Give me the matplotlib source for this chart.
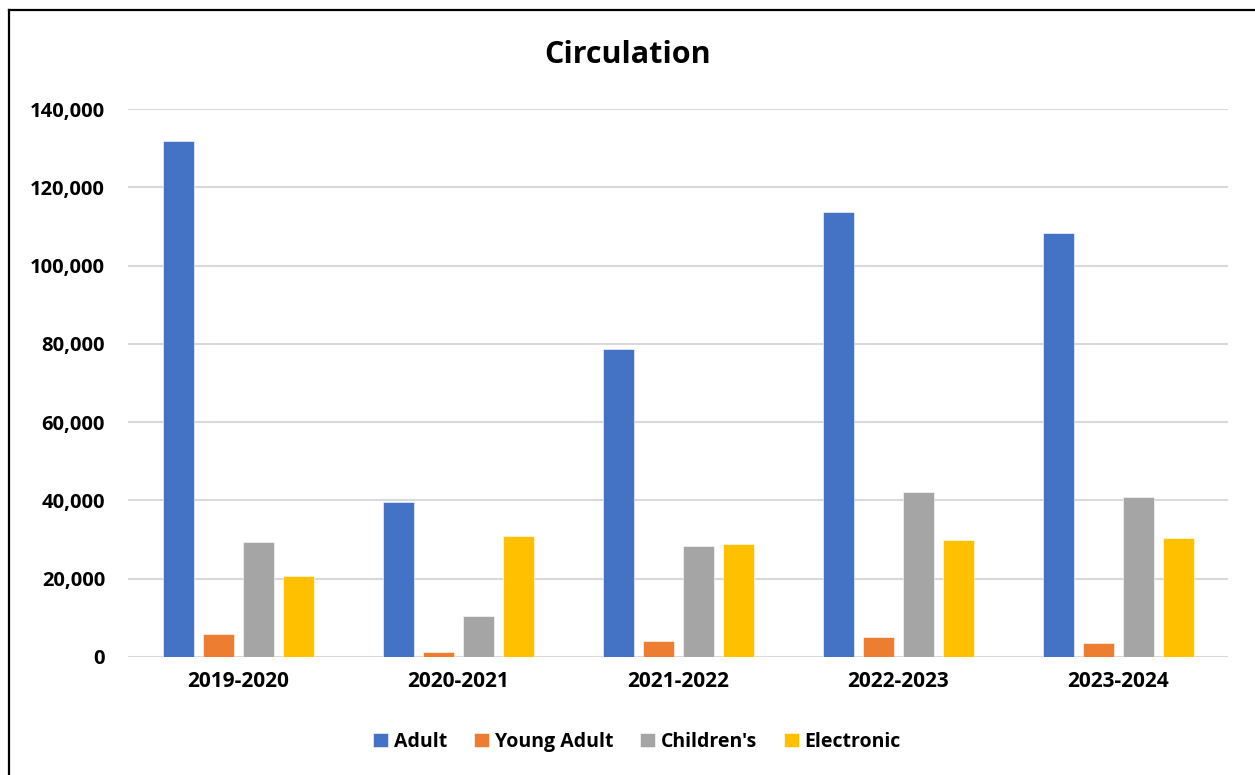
import numpy as np
import matplotlib.pyplot as plt
from matplotlib.lines import Line2D
from matplotlib.ticker import FuncFormatter

plt.rcParams['font.family'] = ['Open Sans', 'DejaVu Sans']
plt.rcParams['font.weight'] = 'bold'

years = ['2019-2020', '2020-2021', '2021-2022', '2022-2023', '2023-2024']
series = ['Adult', 'Young Adult', "Children's", 'Electronic']
adult = [131700, 39700, 78700, 113700, 108300]
young_adult = [5900, 1400, 4000, 5200, 3500]
childrens = [29400, 10500, 28400, 42100, 41000]
electronic = [20600, 31000, 28800, 30000, 30300]
colors = ['#4472C4', '#ED7D31', '#A5A5A5', '#FFC000']

fig = plt.figure(figsize=(12.55, 7.75), dpi=100)
ax = fig.add_axes([128/1255, 1-657/775, 1100/1255, 548/775])

x = np.arange(len(years))
w = 31/220
pitch = 40/220
for i, (vals, c) in enumerate(zip([adult, young_adult, childrens, electronic], colors)):
	ax.bar(x + (i-1.5)*pitch, vals, w, color=c, label=series[i], zorder=3,
		edgecolor='white', linewidth=0.4)

ax.set_xlim(-0.5, 4.5)
ax.set_ylim(0, 140000)
ax.set_yticks(np.arange(0, 140001, 20000))
ax.yaxis.set_major_formatter(FuncFormatter(lambda v, p: f'{int(v):,}'))
ax.grid(axis='y', color='#d9d9d9', linewidth=1.5, zorder=0)
ax.set_xticks(x)
ax.set_xticklabels(years)
for s in ax.spines.values():
	s.set_visible(False)
ax.tick_params(axis='x', length=0, labelsize=15, pad=10)
ax.tick_params(axis='y', length=0, labelsize=14.5, pad=16.5)

fig.text(0.5, 1-55/775, 'Circulation', ha='center', va='center', fontsize=22, fontweight='bold')

leg = fig.legend(loc='center', bbox_to_anchor=(637/1255, 1-742/775), ncol=4, frameon=False,
	prop={'weight': 'bold', 'size': 14}, handlelength=0.75, handleheight=0.75,
	handletextpad=0.3, columnspacing=1.4)

# outer border (only left and top visible in the crop)
fig.add_artist(Line2D([9/1255, 9/1255], [0, 1-10/775], color='black', linewidth=1.6, transform=fig.transFigure))
fig.add_artist(Line2D([9/1255, 1], [1-10/775, 1-10/775], color='black', linewidth=1.6, transform=fig.transFigure))

fig.savefig('out.png', dpi=100)
